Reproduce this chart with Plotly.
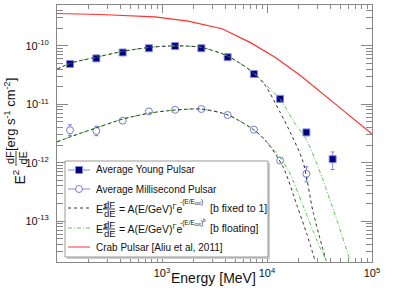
import plotly.graph_objects as go

# ---------------- data ----------------
energy_young = [133, 237, 422, 750, 1334, 2371, 4217, 7499, 13335, 23714, 42170]
flux_young = [4.9e-11, 6.1e-11, 7.7e-11, 9.1e-11, 9.9e-11, 9.1e-11, 6.4e-11, 3.3e-11, 1.24e-11, 3.3e-12, 1.15e-12]
err_young_plus = [0.3e-11, 0.35e-11, 0.4e-11, 0.45e-11, 0.5e-11, 0.5e-11, 0.4e-11, 0.25e-11, 0.12e-11, 0.4e-12, 0.38e-12]
err_young_minus = [0.3e-11, 0.35e-11, 0.4e-11, 0.45e-11, 0.5e-11, 0.5e-11, 0.4e-11, 0.25e-11, 0.12e-11, 0.4e-12, 0.385e-12]

energy_msp = [133, 237, 422, 750, 1334, 2371, 4217, 7499, 13335, 23714]
flux_msp = [3.6e-12, 3.5e-12, 5.24e-12, 7.56e-12, 8.05e-12, 8.3e-12, 6.55e-12, 3.68e-12, 1.09e-12, 6.45e-13]
err_msp_plus = [0.85e-12, 0.7e-12, 0.35e-12, 0.4e-12, 0.4e-12, 0.4e-12, 0.35e-12, 0.25e-12, 0.12e-12, 2.05e-13]
err_msp_minus = [0.7e-12, 0.6e-12, 0.35e-12, 0.4e-12, 0.4e-12, 0.4e-12, 0.35e-12, 0.25e-12, 0.12e-12, 1.75e-13]

# fit / model curves
young_b1_E = [100, 133, 235, 425, 769, 1330, 2352, 4253, 7518, 9572, 13300, 17300, 22030, 27430, 36480]
young_b1_F = [3.98e-11, 5.03e-11, 6.37e-11, 8.06e-11, 9.43e-11, 1.0e-10, 9.43e-11, 6.62e-11, 3.40e-11,
              2.12e-11, 7.36e-12, 2.87e-12, 1.036e-12, 1.457e-13, 2.13e-14]
young_bf_E = [100, 133, 235, 425, 769, 1330, 2352, 4253, 7518, 9572, 13300, 18080, 23520, 30600, 43470, 61730]
young_bf_F = [3.98e-11, 5.03e-11, 6.37e-11, 8.06e-11, 9.43e-11, 1.0e-10, 9.43e-11, 6.62e-11, 3.40e-11,
              2.21e-11, 1.226e-11, 4.97e-12, 2.55e-12, 8.51e-13, 1.457e-13, 2.13e-14]
msp_b1_E = [100, 133, 235, 425, 769, 1330, 2352, 4253, 7518, 9572, 14210, 19310, 24040, 28650]
msp_b1_F = [2.27e-12, 2.76e-12, 3.93e-12, 5.59e-12, 7.08e-12, 7.96e-12, 8.28e-12, 6.55e-12, 3.63e-12,
            2.45e-12, 8.51e-13, 1.84e-13, 5.91e-14, 2.13e-14]
msp_bf_E = [100, 133, 235, 425, 769, 1330, 2352, 4253, 7518, 9572, 15500, 22030, 29940, 36480]
msp_bf_F = [2.27e-12, 2.76e-12, 3.93e-12, 5.59e-12, 7.08e-12, 7.96e-12, 8.28e-12, 6.55e-12, 3.63e-12,
            2.45e-12, 8.19e-13, 1.84e-13, 4.67e-14, 2.13e-14]
crab_E = [100, 257, 858, 1768, 3727, 6889, 11920, 20620, 42530, 100000]
crab_F = [3.58e-10, 3.44e-10, 3.14e-10, 2.65e-10, 1.96e-10, 1.147e-10, 6.37e-11, 3.14e-11, 1.09e-11, 3.11e-12]

x_tick_vals = [1e3, 1e4, 1e5]
x_tick_text = ["10<sup>3</sup>", "10<sup>4</sup>", "10<sup>5</sup>"]
y_tick_vals = [1e-13, 1e-12, 1e-11, 1e-10]
y_tick_text = ["10<sup>-13</sup>", "10<sup>-12</sup>", "10<sup>-11</sup>", "10<sup>-10</sup>"]

legend_labels = ["Average Young Pulsar", "Average Millisecond Pulsar", "[b fixed to 1]", "[b floating]",
                 "Crab Pulsar [Aliu et al, 2011]"]

# ---------------- styling ----------------
FONT = "Liberation Sans, Arial, Helvetica, sans-serif"
W, H = 407, 292
L, R, T, B = 57, 372, 5, 262
NAVY = "#000080"
BLUE_L = "#8a8ae6"
CIRC = "#7777dd"
DASHK = "#333333"
GREEN = "#5cc64a"
RED = "#ff3030"
FRAME = "#888888"


def px(x):
    return (x - L) / (R - L)


def py(y):
    return (B - y) / (B - T)


fig = go.Figure()

fig.add_trace(go.Scatter(x=crab_E, y=crab_F, mode="lines", line=dict(color=RED, width=1.2),
                         showlegend=False, hoverinfo="skip"))
fig.add_trace(go.Scatter(
    x=energy_young, y=flux_young, mode="markers",
    marker=dict(symbol="square", size=7, color=NAVY, line=dict(color=BLUE_L, width=1)),
    error_y=dict(type="data", symmetric=False, array=err_young_plus, arrayminus=err_young_minus,
                 color=BLUE_L, thickness=1, width=2),
    showlegend=False))
fig.add_trace(go.Scatter(
    x=energy_msp, y=flux_msp, mode="markers",
    marker=dict(symbol="circle", size=7, color="white", line=dict(color=CIRC, width=1)),
    error_y=dict(type="data", symmetric=False, array=err_msp_plus, arrayminus=err_msp_minus,
                 color=CIRC, thickness=1, width=2),
    showlegend=False))

for xs, ys, col, dash in [
    (young_bf_E, young_bf_F, GREEN, "4px,2px,1px,2px"),
    (msp_bf_E, msp_bf_F, GREEN, "4px,2px,1px,2px"),
    (young_b1_E, young_b1_F, DASHK, "3px,3px"),
    (msp_b1_E, msp_b1_F, DASHK, "3px,3px"),
]:
    fig.add_trace(go.Scatter(x=xs, y=ys, mode="lines",
                             line=dict(color=col, width=1, dash=dash, shape="spline", smoothing=0.8),
                             showlegend=False, hoverinfo="skip"))

x_minor = [m * 10 ** d for d in (2, 3, 4) for m in range(2, 10)]
y_minor = [m * 10.0 ** d for d in (-14, -13, -12, -11, -10) for m in range(2, 10)]

fig.update_xaxes(type="log", range=[2, 5], showline=True, linecolor=FRAME, linewidth=1, mirror="allticks",
                 ticks="inside", ticklen=8, tickcolor=FRAME, tickvals=x_tick_vals, ticktext=x_tick_text,
                 tickfont=dict(family=FONT, size=11, color="#111"), showgrid=False, zeroline=False,
                 ticklabelstandoff=1,
                 minor=dict(ticks="inside", ticklen=4, tickcolor=FRAME, tickvals=x_minor, showgrid=False))
fig.update_yaxes(type="log", range=[-13.699, -9.301], showline=True, linecolor=FRAME, linewidth=1,
                 mirror="allticks", ticks="inside", ticklen=11, tickcolor=FRAME, tickvals=y_tick_vals,
                 ticktext=y_tick_text, tickfont=dict(family=FONT, size=11, color="#111"), showgrid=False,
                 zeroline=False, ticklabelstandoff=5,
                 minor=dict(ticks="inside", ticklen=6, tickcolor=FRAME, tickvals=y_minor, showgrid=False))

shapes = []
anns = []

# legend box with shadow
shapes.append(dict(type="rect", xref="paper", yref="paper", x0=px(67), x1=px(270), y0=py(259), y1=py(163),
                   fillcolor="#cccccc", line=dict(width=0), layer="above"))
shapes.append(dict(type="rect", xref="paper", yref="paper", x0=px(65), x1=px(268), y0=py(257), y1=py(161),
                   fillcolor="white", line=dict(color="#999999", width=1), layer="above"))

rows = [170, 189, 208, 228, 247]
samples = [(BLUE_L, "solid"), (BLUE_L, "solid"), (DASHK, "3px,3px"), (GREEN, "4px,2px,1px,2px"), (RED, "solid")]
for yr, (col, dash) in zip(rows, samples):
    shapes.append(dict(type="line", xref="paper", yref="paper", x0=px(68), x1=px(90), y0=py(yr), y1=py(yr),
                       line=dict(color=col, width=1, dash=dash), layer="above"))
shapes.append(dict(type="rect", xref="paper", yref="paper", x0=px(75.5), x1=px(82.5), y0=py(173.5),
                   y1=py(166.5), fillcolor=NAVY, line=dict(color=BLUE_L, width=1), layer="above"))
shapes.append(dict(type="circle", xref="paper", yref="paper", x0=px(75.5), x1=px(82.5), y0=py(192.5),
                   y1=py(185.5), fillcolor="white", line=dict(color=CIRC, width=1), layer="above"))


def ann(text, x, y, size=10, xanchor="left", yanchor="middle", angle=0):
    anns.append(dict(text=text, x=px(x), y=py(y), xref="paper", yref="paper", showarrow=False,
                     xanchor=xanchor, yanchor=yanchor, textangle=angle,
                     font=dict(family=FONT, size=size, color="#111"), borderpad=0))


ann(legend_labels[0], 95, 170)
ann(legend_labels[1], 95, 189)
ann(legend_labels[4], 95, 247)
for yr, lab, expo in [(209, legend_labels[2], "-(E/E<sub>cut</sub>)"),
                      (229, legend_labels[3], "-(E/E<sub>cut</sub>)<sup>b</sup>")]:
    ann("E<sup>2</sup>", 94.5, yr - 1, size=10.5)
    ann("dF", 103, yr - 4.5, size=9.5)
    ann("dE", 103, yr + 4, size=9.5)
    shapes.append(dict(type="line", xref="paper", yref="paper", x0=px(103), x1=px(115), y0=py(yr),
                       y1=py(yr), line=dict(color="#111", width=0.8), layer="above"))
    ann("= A(E/GeV)<sup>Γ</sup>e", 117.5, yr - 1, size=10.5)
    ann(expo, 179, yr - 7, size=6.5)
    ann(lab, 209, yr - 1, size=10.5)

# y-axis title: E^2 (dF/dE) [erg s^-1 cm^-2]
ann("[erg s<sup>-1</sup> cm<sup>-2</sup>]", 10, 115, size=13, xanchor="center", angle=-90)
ann("dF", 10, 158, size=11, xanchor="center", angle=-90)
ann("dE", 22.5, 158, size=11, xanchor="center", angle=-90)
shapes.append(dict(type="line", xref="paper", yref="paper", x0=px(16), x1=px(16), y0=py(151), y1=py(166),
                   line=dict(color="#111", width=0.8), layer="above"))
ann("E<sup>2</sup>", 19.5, 177, size=14, xanchor="center", angle=-90)

# x-axis title
ann("Energy [MeV]", 257, 278, size=14, xanchor="right")

fig.update_layout(width=W, height=H, margin=dict(l=L, r=W - R, t=T, b=H - B, pad=0),
                  paper_bgcolor="white", plot_bgcolor="white", showlegend=False,
                  shapes=shapes, annotations=anns, font=dict(family=FONT))

fig.write_html("out.html", config={"displayModeBar": False},
               post_script="document.body.style.margin='0';document.body.style.padding='0';"
                           "document.documentElement.style.overflow='hidden';")
